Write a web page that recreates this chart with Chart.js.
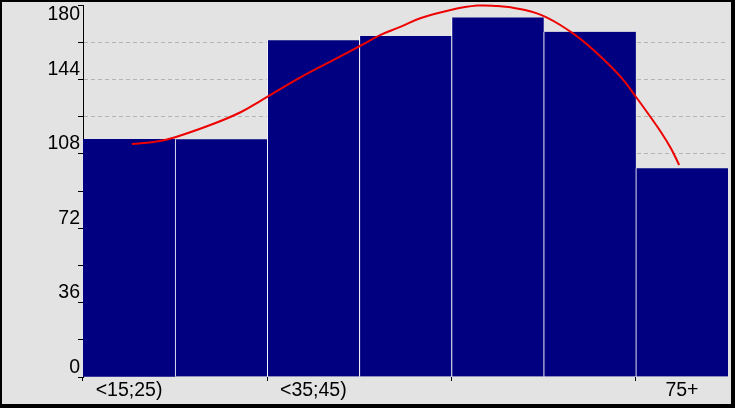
<!DOCTYPE html>
<html><head><meta charset="utf-8">
<script src="https://cdn.jsdelivr.net/npm/chart.js@4/dist/chart.umd.min.js"></script>
<style>html,body{margin:0;padding:0;background:#e3e3e3;overflow:hidden}canvas{display:block}</style>
</head><body>
<canvas id="c" width="735" height="408"></canvas>
<script>
const categories = ['<15;25)', '<25;35)', '<35;45)', '<45;55)', '<55;65)', '<65;75)', '75+'];
const shownLabels = ['<15;25)', '<35;45)', '75+'];
const counts = [115, 115, 163, 165, 174, 167, 101];
const curveX = [0.03, 0.30, 0.50, 0.91, 1.21, 1.44, 1.86, 2.22, 2.49, 2.73, 2.95, 3.16, 3.49, 3.78, 4.00, 4.14, 4.47, 4.79, 5.04, 5.34, 5.50, 5.63, 5.77, 5.88, 5.97];
const curveY = [112.7, 113.9, 116.0, 122.4, 128.1, 134.0, 145.0, 153.4, 159.8, 165.5, 169.5, 173.6, 177.6, 179.7, 179.5, 178.9, 175.2, 167.1, 158.2, 145.0, 135.6, 127.6, 118.7, 110.7, 102.6];
const yLabelValues = [0, 36, 72, 108, 144, 180];
const yMax = 180, yStep = 18;

const FONT = {family: "'Liberation Sans', Arial, sans-serif", size: 19.5, lineHeight: 1};

const framePlugin = {
  id: 'frame',
  afterDraw(chart) {
    const ctx = chart.ctx, w = chart.width, h = chart.height;
    ctx.save();
    ctx.fillStyle = '#000';
    ctx.fillRect(0, 0, w, 2);
    ctx.fillRect(0, 0, 2, h);
    ctx.fillRect(w - 4, 0, 4, h);
    ctx.fillRect(0, h - 4, w, 4);
    ctx.restore();
  }
};

new Chart(document.getElementById('c'), {
  type: 'bar',
  data: {
    labels: categories,
    datasets: [
      {
        type: 'line',
        data: curveX.map((x, i) => ({x: x, y: curveY[i]})),
        xAxisID: 'x2',
        yAxisID: 'y',
        borderColor: '#ee0000',
        borderWidth: 2,
        pointRadius: 0,
        tension: 0.4,
        fill: false,
        clip: false,
        order: 0
      },
      {
        type: 'bar',
        data: counts,
        xAxisID: 'x',
        yAxisID: 'y',
        backgroundColor: '#000080',
        borderColor: '#ffffff',
        borderWidth: ctx => ({left: ctx.dataIndex > 0 ? 1 : 0, top: 0, right: 0, bottom: 0}),
        borderSkipped: false,
        grouped: false,
        barPercentage: 1,
        categoryPercentage: 1,
        order: 1
      }
    ]
  },
  options: {
    responsive: false,
    animation: false,
    devicePixelRatio: 1,
    layout: {padding: {top: 5, right: 7, bottom: 0, left: 0}},
    plugins: {legend: {display: false}, tooltip: {enabled: false}},
    scales: {
      x: {
        type: 'category',
        offset: true,
        grid: {
          offset: true,
          drawOnChartArea: false,
          tickLength: 4,
          tickWidth: 1,
          tickColor: ctx => (ctx.index % 2 === 0 && ctx.index < categories.length) ? '#000' : 'rgba(0,0,0,0)'
        },
        border: {display: false},
        ticks: {
          autoSkip: false,
          maxRotation: 0,
          minRotation: 0,
          padding: 0,
          color: '#000',
          font: FONT,
          callback: function(v, i) {
            const l = categories[i];
            return shownLabels.includes(l) ? l : '';
          }
        },
        afterFit: s => { s.height = 31; s.paddingLeft = 0; s.paddingRight = 0; }
      },
      x2: {
        type: 'linear',
        min: -0.5,
        max: 6.5,
        offset: false,
        display: false
      },
      y: {
        min: 0,
        max: yMax,
        grid: {
          color: ctx => (ctx.tick && (ctx.tick.value === 0 || ctx.tick.value === yMax)) ? 'rgba(0,0,0,0)' : '#b4b4b4',
          tickColor: '#000',
          tickLength: 5,
          tickWidth: 1,
          tickBorderDash: []
        },
        border: {display: true, color: '#000', width: 1, dash: [4, 3]},
        ticks: {
          stepSize: yStep,
          autoSkip: false,
          padding: -2,
          color: '#000',
          font: FONT,
          callback: function(v) {
            if (!yLabelValues.includes(v)) return '';
            return v === yMax ? ['', String(v)] : [String(v), ''];
          }
        },
        afterFit: s => { s.width = 83; s.paddingTop = 0; s.paddingBottom = 0; }
      }
    }
  },
  plugins: [framePlugin]
});
</script>
</body></html>
